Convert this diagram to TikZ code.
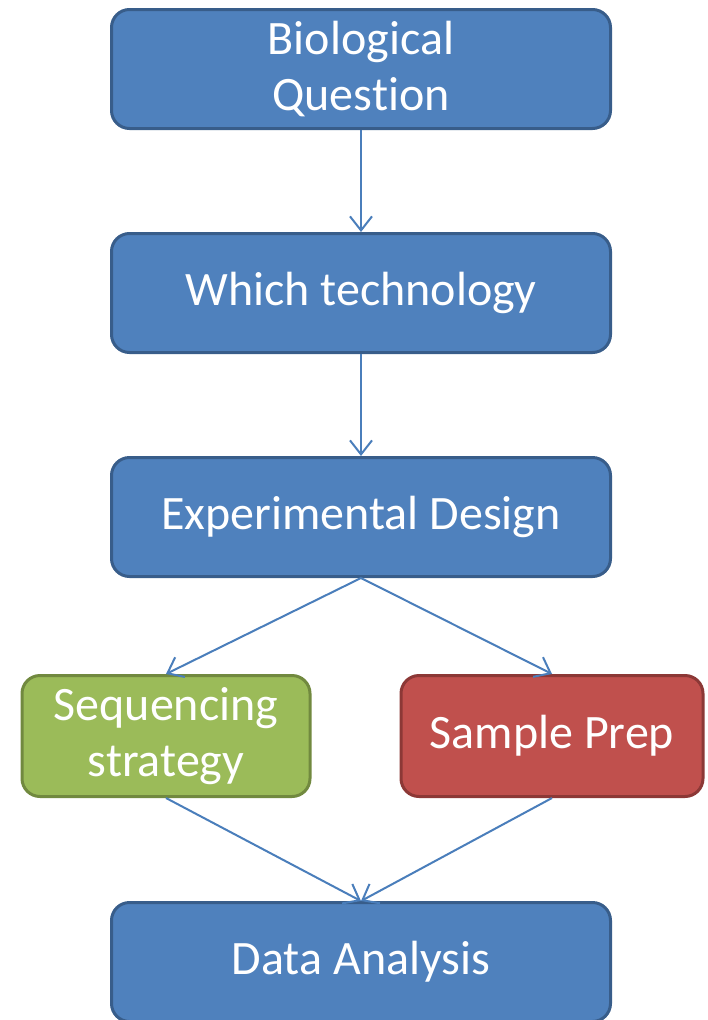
\documentclass[tikz,border=0pt]{standalone}
\usepackage{fontspec}
\setmainfont{Carlito}[Ligatures=NoCommon]
\usepackage{tikz}
\usetikzlibrary{positioning, arrows.meta}
\definecolor{boxblue}{HTML}{4F81BD}
\definecolor{edgeblue}{HTML}{385D8A}
\definecolor{boxgreen}{HTML}{9BBB59}
\definecolor{edgegreen}{HTML}{71893F}
\definecolor{boxred}{HTML}{C0504D}
\definecolor{edgered}{HTML}{8C3836}
\definecolor{arrowblue}{HTML}{4A7EBB}
\tikzset{
  block/.style={rectangle, rounded corners=18pt, draw=edgeblue, fill=boxblue, line width=3pt, text=white, minimum width=499pt, minimum height=119pt, align=center, font=\fontsize{48}{56}\selectfont},
  arrow/.style={-{Straight Barb[length=14pt, width=22pt, line width=2pt]}, draw=arrowblue, line width=2pt},
}

\begin{document}
\begin{tikzpicture}[x=1pt, y=-1pt, node distance=102pt]
  \useasboundingbox (0,0) rectangle (707,1020);

  % Main column
  \node[block] (question) at (361,69) {Biological\\Question};
  \node[block, below=of question] (tech) {Which technology};
  \node[block, below=of tech] (design) {Experimental Design};

  % Side branches
  \node[block, draw=edgegreen, fill=boxgreen, minimum width=288pt, minimum height=121pt, below=96pt of design, xshift=-195pt] (seq) {Sequencing\\strategy};
  \node[block, draw=edgered, fill=boxred, minimum width=302pt, minimum height=121pt, below=96pt of design, xshift=191pt] (prep) {Sample Prep};

  % Final step
  \node[block, below=323pt of design] (analysis) {Data Analysis};

  % Arrows
  \draw[arrow] (question) -- (tech);
  \draw[arrow] (tech) -- (design);
  \draw[arrow] (design.south) -- (seq.north);
  \draw[arrow] (design.south) -- (prep.north);
  \draw[arrow] (seq.south) -- (analysis.north);
  \draw[arrow] (prep.south) -- (analysis.north);

\end{tikzpicture}
\end{document}
